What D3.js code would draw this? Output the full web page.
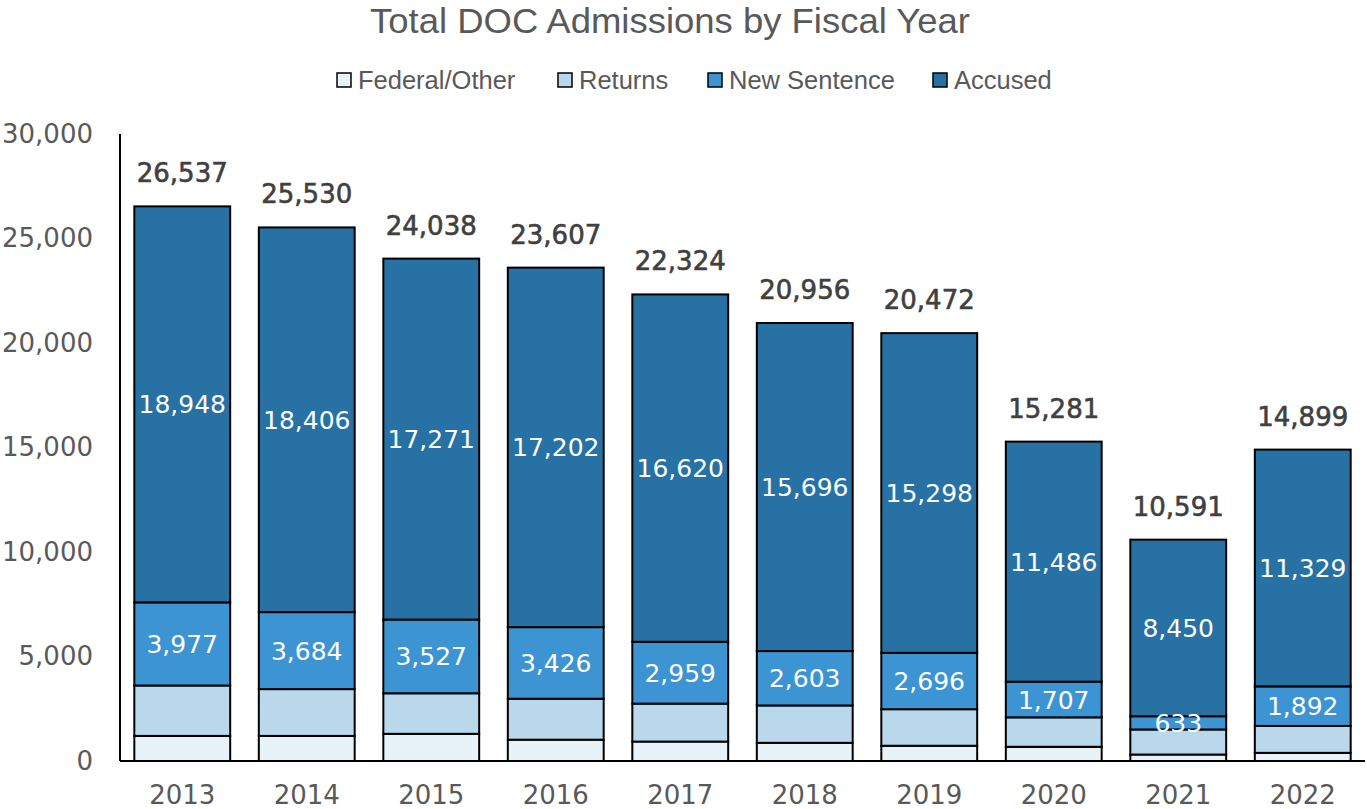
<!DOCTYPE html>
<html>
<head>
<meta charset="utf-8">
<script src="https://cdn.jsdelivr.net/npm/d3@7"></script>
<style>
  html, body { margin: 0; padding: 0; background: #fff; }
  svg { display: block; }
</style>
</head>
<body>
<svg id="chart" width="1367" height="809"></svg>
<script>
const years = ["2013","2014","2015","2016","2017","2018","2019","2020","2021","2022"];
const federalOther = [1200, 1200, 1300, 1020, 930, 870, 730, 680, 310, 390];
const returns = [2412, 2240, 1940, 1959, 1815, 1787, 1748, 1408, 1198, 1288];
const newSentence = [3977, 3684, 3527, 3426, 2959, 2603, 2696, 1707, 633, 1892];
const accused = [18948, 18406, 17271, 17202, 16620, 15696, 15298, 11486, 8450, 11329];
const totals = [26537, 25530, 24038, 23607, 22324, 20956, 20472, 15281, 10591, 14899];
const seriesNames = ["Federal/Other", "Returns", "New Sentence", "Accused"];
const yTicks = [0, 5000, 10000, 15000, 20000, 25000, 30000];

const colors = ["#E8F2F9", "#B9D8EC", "#3D94D2", "#2771A4"];
const seriesValues = [federalOther, returns, newSentence, accused];
const labeled = [false, false, true, true];

const svg = d3.select("#chart");
const margin = {left: 120, right: 2, top: 134, bottom: 48};
const W = 1367, H = 809;
const x = d3.scaleBand().domain(years).range([margin.left, W - margin.right]).paddingInner(0.23).paddingOuter(0.115);
const y = d3.scaleLinear().domain([0, 30000]).range([H - margin.bottom, margin.top]);

const table = years.map((yr, i) => {
  const o = {year: yr};
  seriesNames.forEach((s, k) => o[s] = seriesValues[k][i]);
  return o;
});
const stack = d3.stack().keys(seriesNames)(table);

const numFont = "'DejaVu Sans', Verdana, sans-serif";
const textFont = "'Liberation Sans', Arial, sans-serif";
const narrowFont = "'Liberation Sans Narrow', 'Liberation Sans', sans-serif";

// title
svg.append("text").attr("x", 670).attr("y", 33).attr("text-anchor", "middle")
  .attr("font-family", narrowFont).attr("font-size", 35).attr("fill", "#595959")
  .attr("textLength", 600).attr("lengthAdjust", "spacingAndGlyphs")
  .text("Total DOC Admissions by Fiscal Year");

// legend
const legendX = [336, 557, 707, 932];
const lg = svg.append("g");
seriesNames.forEach((s, k) => {
  const g = lg.append("g").attr("transform", `translate(${legendX[k]},80)`);
  g.append("rect").attr("x", 1).attr("y", -7).attr("width", 14).attr("height", 14)
    .attr("fill", colors[k]).attr("stroke", "#000").attr("stroke-width", 1.5);
  g.append("text").attr("x", 22).attr("y", 9).attr("font-family", textFont)
    .attr("font-size", 25.5).attr("fill", "#595959").text(s);
});

// y axis labels
const yAxis = d3.axisLeft(y).tickValues(yTicks).tickSize(0).tickPadding(27)
  .tickFormat(d3.format(","));
const ya = svg.append("g").attr("transform", `translate(${margin.left},0)`).call(yAxis);
ya.select(".domain").remove();
ya.selectAll("text").attr("font-family", numFont).attr("font-size", 26).attr("fill", "#595959");

// bars
stack.forEach((layer, k) => {
  svg.append("g").selectAll("rect").data(layer).join("rect")
    .attr("x", d => x(d.data.year))
    .attr("width", x.bandwidth())
    .attr("y", d => y(d[1]))
    .attr("height", d => y(d[0]) - y(d[1]))
    .attr("fill", colors[k]).attr("stroke", "#000").attr("stroke-width", 2);
});

// segment labels
stack.forEach((layer, k) => {
  if (!labeled[k]) return;
  svg.append("g").selectAll("text").data(layer).join("text")
    .attr("x", d => x(d.data.year) + x.bandwidth() / 2)
    .attr("y", d => (y(d[0]) + y(d[1])) / 2 + 9)
    .attr("text-anchor", "middle").attr("font-family", numFont)
    .attr("font-size", 25).attr("fill", "#fff")
    .text(d => d3.format(",")(d[1] - d[0]));
});

// totals
svg.append("g").selectAll("text").data(years).join("text")
  .attr("x", d => x(d) + x.bandwidth() / 2)
  .attr("y", (d, i) => y(totals[i]) - 24)
  .attr("text-anchor", "middle").attr("font-family", numFont)
  .attr("font-size", 26).attr("fill", "#404040")
  .attr("stroke", "#404040").attr("stroke-width", 0.6)
  .text((d, i) => d3.format(",")(totals[i]));

// axes lines
svg.append("line").attr("x1", margin.left).attr("x2", margin.left)
  .attr("y1", y(30000)).attr("y2", y(0)).attr("stroke", "#000").attr("stroke-width", 2);
svg.append("line").attr("x1", margin.left).attr("x2", W - margin.right)
  .attr("y1", y(0)).attr("y2", y(0)).attr("stroke", "#000").attr("stroke-width", 2);

// x axis labels
const xAxis = d3.axisBottom(x).tickSize(0).tickPadding(25);
const xa = svg.append("g").attr("transform", `translate(0,${y(0)})`).call(xAxis);
xa.select(".domain").remove();
xa.selectAll("text").attr("font-family", numFont).attr("font-size", 26).attr("fill", "#595959");
</script>
</body>
</html>
